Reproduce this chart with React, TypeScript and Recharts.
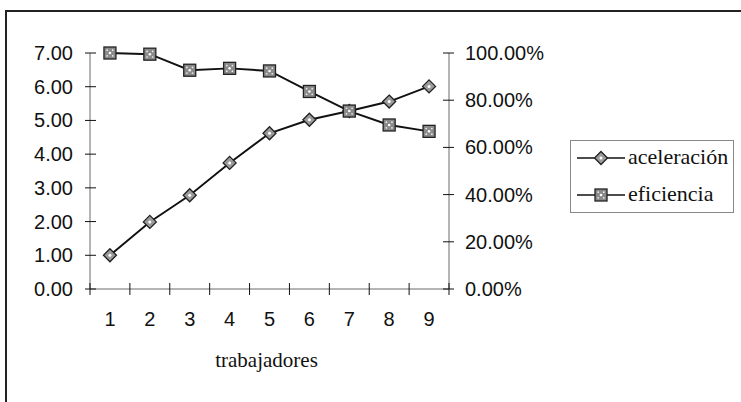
import React from "react";
import { LineChart, Line, XAxis, YAxis, Legend } from "recharts";

const trabajadores = [1, 2, 3, 4, 5, 6, 7, 8, 9];
const aceleracion = [1.0, 1.99, 2.78, 3.74, 4.62, 5.02, 5.28, 5.56, 6.01];
const eficiencia = [1.0, 0.995, 0.927, 0.935, 0.924, 0.837, 0.754, 0.695, 0.668];

const leftTicks = [0, 1, 2, 3, 4, 5, 6, 7];
const rightTicks = [0, 0.2, 0.4, 0.6, 0.8, 1.0];
const xTicks = [0.5, 1, 1.5, 2, 2.5, 3, 3.5, 4, 4.5, 5, 5.5, 6, 6.5, 7, 7.5, 8, 8.5, 9, 9.5];

const data = trabajadores.map((n, i) => ({
  n,
  aceleracion: aceleracion[i],
  eficiencia: eficiencia[i],
}));

const SANS = "'Liberation Sans', Arial, sans-serif";
const SERIF = "'Liberation Serif', 'Times New Roman', serif";
const AXIS = "#6a6a6a";

const Diamond = ({ cx, cy }: any) => {
  if (cx == null || cy == null) return null;
  const r = 6.5;
  return (
    <g>
      <polygon
        points={`${cx},${cy - r} ${cx + r},${cy} ${cx},${cy + r} ${cx - r},${cy}`}
        fill="#9a9a9a"
        stroke="#222"
        strokeWidth={1.3}
      />
      <circle cx={cx} cy={cy} r={1.5} fill="#fff" />
    </g>
  );
};

const Square = ({ cx, cy }: any) => {
  if (cx == null || cy == null) return null;
  const s = 6;
  return (
    <g>
      <rect x={cx - s} y={cy - s} width={2 * s} height={2 * s} fill="#8a8a8a" stroke="#222" strokeWidth={1.3} />
      <circle cx={cx} cy={cy} r={1.3} fill="#fff" />
      <circle cx={cx - 2.8} cy={cy - 2.8} r={0.85} fill="#eee" />
      <circle cx={cx + 2.8} cy={cy - 2.8} r={0.85} fill="#eee" />
      <circle cx={cx - 2.8} cy={cy + 2.8} r={0.85} fill="#eee" />
      <circle cx={cx + 2.8} cy={cy + 2.8} r={0.85} fill="#eee" />
    </g>
  );
};

const XTick = ({ x, y, payload }: any) => {
  const v = payload.value;
  if (Number.isInteger(v)) {
    return (
      <text x={x} y={y + 37} textAnchor="middle" fontFamily={SANS} fontSize={20} fill="#111">
        {v}
      </text>
    );
  }
  return <line x1={x} x2={x} y1={y - 6} y2={y + 6} stroke="#111" strokeWidth={1} />;
};

const LeftTick = ({ x, y, payload }: any) => (
  <g>
    <line x1={x - 5} x2={x + 6} y1={y} y2={y} stroke="#111" strokeWidth={1} />
    <text x={x - 17} y={y + 7} textAnchor="end" fontFamily={SANS} fontSize={20} fill="#111">
      {Number(payload.value).toFixed(2)}
    </text>
  </g>
);

const RightTick = ({ x, y, payload }: any) => (
  <g>
    <line x1={x - 6} x2={x + 5} y1={y} y2={y} stroke="#111" strokeWidth={1} />
    <text x={x + 16} y={y + 7} textAnchor="start" fontFamily={SANS} fontSize={20} fill="#111">
      {(Number(payload.value) * 100).toFixed(2)}%
    </text>
  </g>
);

const XLabel = ({ viewBox }: any) => {
  if (!viewBox) return null;
  return (
    <text
      x={viewBox.x + viewBox.width / 2 - 3}
      y={viewBox.y + 78}
      textAnchor="middle"
      fontFamily={SERIF}
      fontSize={21}
      fill="#111"
    >
      trabajadores
    </text>
  );
};

const legendItems = [
  { key: "aceleracion", label: "aceleración", Marker: Diamond },
  { key: "eficiencia", label: "eficiencia", Marker: Square },
];

const LegendContent = () => (
  <svg width={165} height={74} style={{ display: "block" }}>
    <rect x={0.5} y={0.5} width={163} height={72} fill="#fff" stroke="#888" strokeWidth={1} />
    {legendItems.map((it, i) => {
      const cy = 18 + i * 37;
      const M = it.Marker;
      return (
        <g key={it.key}>
          <line x1={7} x2={55} y1={cy} y2={cy} stroke="#111" strokeWidth={1.6} />
          <M cx={31} cy={cy} />
          <text x={58} y={cy + 6} fontFamily={SERIF} fontSize={22} fill="#111">
            {it.label}
          </text>
        </g>
      );
    })}
  </svg>
);

export default function App() {
  return (
    <div style={{ position: "absolute", left: 0, top: 0, width: 741, height: 402, background: "#fff", overflow: "hidden" }}>
      <div
        style={{
          position: "absolute",
          left: 5,
          top: 10,
          width: 800,
          height: 500,
          borderLeft: "2px solid #222",
          borderTop: "2px solid #222",
        }}
      />
      <div style={{ position: "absolute", left: 0, top: 0 }}>
        <LineChart width={741} height={402} data={data} margin={{ top: 53, right: 0, bottom: 0, left: 0 }}>
          <XAxis
            dataKey="n"
            type="number"
            domain={[0.5, 9.5]}
            ticks={xTicks}
            interval={0}
            allowDecimals
            tickSize={0}
            tickMargin={0}
            tickLine={false}
            height={113}
            stroke={AXIS}
            tick={<XTick />}
            label={<XLabel />}
          />
          <YAxis
            yAxisId="l"
            domain={[0, 7]}
            ticks={leftTicks}
            interval={0}
            width={90}
            tickSize={0}
            tickMargin={0}
            tickLine={false}
            stroke={AXIS}
            tick={<LeftTick />}
          />
          <YAxis
            yAxisId="r"
            orientation="right"
            domain={[0, 1]}
            ticks={rightTicks}
            interval={0}
            width={292}
            tickSize={0}
            tickMargin={0}
            tickLine={false}
            stroke={AXIS}
            tick={<RightTick />}
          />
          <Legend
            layout="horizontal"
            align="center"
            verticalAlign="middle"
            content={<LegendContent />}
            wrapperStyle={{ position: "absolute", left: 570, top: 140, width: 165, height: 74 }}
          />
          <Line
            yAxisId="l"
            dataKey="aceleracion"
            name="aceleración"
            stroke="#111"
            strokeWidth={1.9}
            dot={<Diamond />}
            activeDot={false}
            isAnimationActive={false}
          />
          <Line
            yAxisId="r"
            dataKey="eficiencia"
            name="eficiencia"
            stroke="#111"
            strokeWidth={1.9}
            dot={<Square />}
            activeDot={false}
            isAnimationActive={false}
          />
        </LineChart>
      </div>
    </div>
  );
}
